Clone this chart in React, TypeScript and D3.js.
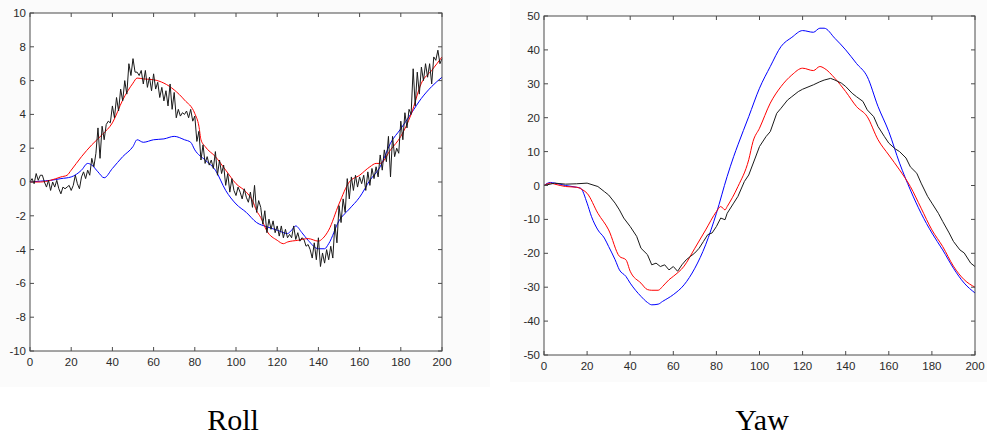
import React from "react";
import * as d3 from "d3";

// ---------- Roll data ----------
// black (measured) roll, one value per sample 0..200
const rollBlackY = [
  0,0.2,-0.1,0.5,0.1,0.4,0.4,0.0,-0.3,0.1,-0.5,0.0,-0.3,0.1,-0.4,-0.7,-0.3,-0.4,-0.3,-0.2,-0.5,
  -0.2,0.4,-0.1,-0.4,0.3,0.6,0.2,0.7,0.4,1.4,0.9,1.7,3.2,1.4,3.3,2.5,3.4,3.6,3.5,4.5,
  3.8,5.0,4.2,5.5,4.8,6.0,5.2,7.0,6.3,7.3,6.5,6.5,6.3,6.6,5.8,6.6,5.6,6.2,5.4,6.4,
  5.5,5.9,5.0,5.6,4.8,5.4,4.5,5.8,4.3,5.3,3.8,4.3,3.9,4.1,4.0,4.2,3.8,4.3,3.6,3.9,
  2.4,3.0,1.3,2.2,1.1,1.5,1.0,1.3,0.8,1.8,0.4,1.3,0.5,1.0,-0.2,0.5,-0.6,0.2,-0.5,-0.8,
  -0.3,-0.6,-1.0,-0.4,-0.9,-1.2,-0.6,-1.5,-0.2,-1.8,-1.1,-1.5,-2.5,-1.7,-3.0,-2.2,-2.8,-2.3,-3.0,-2.6,
  -3.2,-2.6,-3.3,-2.8,-3.3,-3.1,-3.3,-2.6,-3.4,-3.0,-3.5,-3.3,-3.4,-3.8,-3.7,-4.0,-4.5,-3.6,-4.6,-3.3,
  -5.0,-4.2,-4.8,-4.0,-4.6,-3.8,-4.5,-2.5,-3.6,-1.4,-2.4,-1.0,-1.8,0.2,-1.0,0.3,-0.5,0.4,-0.3,0.3,
  -0.1,0.4,-0.5,0.6,-0.2,0.8,0.2,0.9,0.3,1.6,0.7,1.9,1.2,2.7,0.3,2.7,1.5,2.0,1.7,3.6,
  2.5,4.1,3.2,4.3,4.0,6.7,4.5,6.5,5.2,6.8,6.0,7.0,6.2,7.0,5.8,7.4,7.2,7.8,7.0,7.3
];
const rollBlackX = d3.range(0, 201);

const rollRedX = [0,5,10,15,18,20,25,30,35,40,45,50,52,55,60,65,70,75,80,82,83,85,90,95,100,105,108,110,112,115,120,123,125,130,135,140,142,145,150,155,160,165,168,170,175,180,185,190,195,200];
const rollRedY = [0,0,0.1,0.3,0.4,0.7,1.5,2.2,2.8,3.5,4.85,5.85,6.15,6.1,6.05,5.85,5.45,4.85,4.05,3.3,2.5,2.1,1.5,0.7,-0.1,-0.6,-1.1,-1.7,-2.1,-2.9,-3.45,-3.65,-3.55,-3.45,-3.35,-3.5,-3.35,-2.85,-1.3,0,0.4,0.9,1.1,1.1,1.9,2.7,4.0,5.85,6.6,7.4];

const rollBlueX = [0,5,10,15,20,25,28,30,33,36,40,45,50,52,55,60,65,70,75,78,80,85,90,95,100,105,110,115,120,125,127,129,132,135,140,143,145,150,155,160,165,170,175,180,185,190,195,200];
const rollBlueY = [0,0.05,0.1,0.2,0.3,0.7,1.1,1.0,0.6,0.25,0.8,1.5,2.1,2.5,2.35,2.5,2.55,2.7,2.5,2.35,1.9,1.3,0.7,-0.5,-1.3,-1.8,-2.4,-2.65,-2.85,-3.05,-2.85,-2.6,-3.0,-3.45,-3.95,-3.95,-3.65,-2.3,-1.6,-0.9,0.1,0.9,2.3,3.15,4.05,4.95,5.65,6.2];

// ---------- Yaw data ----------
const yawBlueX = [0,3,5,10,15,17,20,22,25,28,30,33,35,38,40,45,48,50,53,55,60,65,70,75,80,85,88,90,95,100,105,110,115,120,125,128,130,135,140,145,150,155,160,165,170,175,180,185,190,195,200];
const yawBlueY = [0,0.9,0.7,0,-0.5,-0.8,-5.2,-9.1,-13.1,-15.5,-18,-21.9,-24.9,-26.8,-28.8,-32.7,-34.5,-35.2,-35,-34.2,-32.2,-29.3,-24.4,-17.5,-8.2,2.7,8.5,12,20.3,28.7,35.1,41,43.7,45.7,45.2,46.4,46.4,43.4,40,36,32.1,23.3,15.9,6.6,-1.3,-8.2,-14,-19,-24.4,-28.8,-31.7];

const yawRedX = [0,3,5,10,15,18,20,25,30,35,38,40,45,48,50,53,55,58,60,65,70,75,80,82,84,85,90,95,97,100,105,110,115,120,125,128,130,135,140,145,150,155,160,165,170,175,180,185,190,195,200];
const yawRedY = [0,0.7,0.4,-0.3,-0.5,-1.3,-2.3,-8.2,-13.1,-20.9,-21.9,-25.3,-28.8,-30.7,-30.9,-30.9,-29.8,-27.8,-26.8,-23.8,-18.5,-13.1,-7.7,-6.2,-7.2,-6.2,-0.3,7.6,13,16.9,24.3,29.2,32.6,34.6,33.9,35.1,34.6,31.6,27.7,23.3,20.3,13.5,9.0,4.6,-0.3,-6.7,-13.1,-18,-23.8,-27.8,-30];

const yawBlackX = [0,5,10,15,20,25,28,30,33,35,37,40,43,45,48,50,52,54,56,58,60,62,64,66,68,70,72,74,76,78,80,82,84,85,88,90,93,95,98,100,103,105,108,110,113,115,118,120,125,128,130,133,135,138,140,143,145,148,150,153,155,158,160,163,165,168,170,173,175,178,180,183,185,188,190,193,195,198,200];
const yawBlackY = [0,0.7,0.4,0.5,0.7,-0.3,-1.8,-2.8,-5.2,-7.2,-9.6,-12.1,-15,-18.5,-20.4,-23.4,-22.9,-23.9,-23.4,-24.9,-23.9,-25.3,-23.4,-21.9,-20.9,-19.9,-18.5,-16.5,-14.5,-14,-12.1,-9.6,-10.1,-8.2,-5.2,-3.2,1.2,3.1,8.1,11.5,14.4,15.9,21.3,22.8,25.2,26.2,27.7,28.4,29.7,30.6,31.1,31.6,31.1,30.2,29.2,27.2,26.2,24.8,22.3,20.3,17.4,14.4,12.5,10.8,10.0,8.1,5.5,3.6,0.7,-3.2,-5.2,-8.2,-10.6,-14,-16.5,-19,-19.9,-22.9,-23.9];

const xTicks = [0, 20, 40, 60, 80, 100, 120, 140, 160, 180, 200];
const rollYTicks = [-10, -8, -6, -4, -2, 0, 2, 4, 6, 8, 10];
const yawYTicks = [-50, -40, -30, -20, -10, 0, 10, 20, 30, 40, 50];

type Series = { xs: number[]; ys: number[]; color: string; smooth: boolean };

function Panel(props: {
  left: number; right: number; top: number; bottom: number;
  yDomain: [number, number]; yTicks: number[]; series: Series[];
  bg: [number, number, number, number];
  title: string; titleX: number;
}) {
  const { left, right, top, bottom, yDomain, yTicks, series, bg, title, titleX } = props;
  const x = d3.scaleLinear().domain([0, 200]).range([left, right]);
  const y = d3.scaleLinear().domain(yDomain).range([bottom, top]);
  const tl = 4;
  const axisColor = "#4a4a4a";
  const textColor = "#2a2a2a";
  return (
    <g>
      <rect x={bg[0]} y={bg[1]} width={bg[2]} height={bg[3]} fill="#fbfbfb" />
      <rect x={left} y={top} width={right - left} height={bottom - top} fill="#ffffff" />
      {series.map((s, i) => {
        const line = d3.line<number>()
          .x((_, j) => x(s.xs[j]))
          .y((v) => y(v))
          .curve(s.smooth ? d3.curveMonotoneX : d3.curveLinear);
        return (
          <path key={i} d={line(s.ys) || ""} fill="none" stroke={s.color}
            strokeWidth={1} strokeLinejoin="round" />
        );
      })}
      <rect x={left} y={top} width={right - left} height={bottom - top}
        fill="none" stroke={axisColor} strokeWidth={1} />
      {xTicks.map((t) => (
        <g key={"x" + t}>
          <line x1={x(t)} x2={x(t)} y1={bottom} y2={bottom - tl} stroke={axisColor} />
          <line x1={x(t)} x2={x(t)} y1={top} y2={top + tl} stroke={axisColor} />
          <text x={x(t)} y={bottom + 15} textAnchor="middle" fontFamily="Liberation Sans, Arial, sans-serif"
            fontSize={11.5} fill={textColor}>{t}</text>
        </g>
      ))}
      {yTicks.map((t) => (
        <g key={"y" + t}>
          <line x1={left} x2={left + tl} y1={y(t)} y2={y(t)} stroke={axisColor} />
          <line x1={right} x2={right - tl} y1={y(t)} y2={y(t)} stroke={axisColor} />
          <text x={left - 4} y={y(t) + 4} textAnchor="end" fontFamily="Liberation Sans, Arial, sans-serif"
            fontSize={11.5} fill={textColor}>{t}</text>
        </g>
      ))}
      <text x={titleX} y={430} textAnchor="middle" fontFamily="Liberation Serif, Times New Roman, serif"
        fontSize={30} fill="#000">{title}</text>
    </g>
  );
}

export default function App() {
  const rollSeries: Series[] = [
    { xs: rollBlueX, ys: rollBlueY, color: "#0000ff", smooth: true },
    { xs: rollRedX, ys: rollRedY, color: "#ff0000", smooth: true },
    { xs: rollBlackX, ys: rollBlackY, color: "#1a1a1a", smooth: false },
  ];
  const yawSeries: Series[] = [
    { xs: yawBlueX, ys: yawBlueY, color: "#0000ff", smooth: true },
    { xs: yawRedX, ys: yawRedY, color: "#ff0000", smooth: true },
    { xs: yawBlackX, ys: yawBlackY, color: "#1a1a1a", smooth: false },
  ];
  return (
    <svg width={987} height={436} style={{ position: "absolute", left: 0, top: 0, background: "#fff" }}>
      <Panel left={30} right={442} top={13} bottom={351} yDomain={[-10, 10]} yTicks={rollYTicks}
        series={rollSeries} bg={[0, 0, 490, 387]} title="Roll" titleX={233} />
      <Panel left={544} right={975} top={16} bottom={355} yDomain={[-50, 50]} yTicks={yawYTicks}
        series={yawSeries} bg={[510, 0, 477, 382]} title="Yaw" titleX={762} />
    </svg>
  );
}
